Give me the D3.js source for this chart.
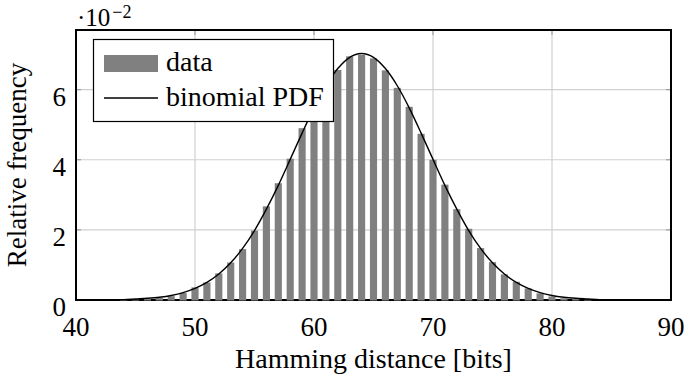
<!DOCTYPE html>
<html>
<head>
<meta charset="utf-8">
<script src="https://cdn.jsdelivr.net/npm/d3@7"></script>
<style>
  body { margin: 0; background: #fff; }
  svg text { font-family: "Liberation Serif", "Times New Roman", Times, "DejaVu Serif", "Noto Serif", serif; fill: #000; }
</style>
</head>
<body>
<div id="chart"></div>
<script>
// hamming distances (bits) that have a bar
const distances = [44, 45, 46, 47, 48, 49, 50, 51, 52, 53, 54, 55, 56, 57, 58, 59, 60, 61, 62, 63,
  64, 65, 66, 67, 68, 69, 70, 71, 72, 73, 74, 75, 76, 77, 78, 79, 80, 81, 82, 83];
// relative frequency, in units of 10^-2
const relFreq = [0.01, 0.02, 0.03, 0.06, 0.11, 0.20, 0.36, 0.50, 0.76, 1.07, 1.45, 1.98, 2.67, 3.33, 4.03, 4.90, 5.50, 6.05, 6.56, 6.95,
  6.99, 6.89, 6.55, 6.05, 5.51, 4.74, 4.00, 3.29, 2.59, 2.03, 1.48, 1.08, 0.73, 0.52, 0.33, 0.19, 0.10, 0.05, 0.03, 0.01];

// binomial PDF curve, read at each integer from 40 to 90 (10^-2)
const pdfX = [40, 41, 42, 43, 44, 45, 46, 47, 48, 49, 50, 51, 52, 53, 54, 55, 56, 57, 58, 59, 60, 61, 62, 63, 64,
  65, 66, 67, 68, 69, 70, 71, 72, 73, 74, 75, 76, 77, 78, 79, 80, 81, 82, 83, 84, 85, 86, 87, 88, 89, 90];
const pdfY = [0.00, 0.00, 0.00, 0.01, 0.01, 0.03, 0.05, 0.08, 0.13, 0.21, 0.33, 0.50, 0.74, 1.06, 1.47, 1.98, 2.59, 3.27, 4.01, 4.76, 5.48, 6.11, 6.60, 6.92, 7.03,
  6.92, 6.60, 6.11, 5.48, 4.76, 4.01, 3.27, 2.59, 1.98, 1.47, 1.06, 0.74, 0.50, 0.33, 0.21, 0.13, 0.08, 0.05, 0.03, 0.01, 0.01, 0.00, 0.00, 0.00, 0.00, 0.00];

const xTicks = [40, 50, 60, 70, 80, 90];
const yTicks = [0, 2, 4, 6];

const W = 685, H = 382;
const margin = {left: 76, right: 14, top: 30, bottom: 82};
const serif = '"Liberation Serif", "Times New Roman", Times, "DejaVu Serif", "Noto Serif", serif';

const svg = d3.select("#chart").append("svg")
    .attr("width", W)
    .attr("height", H)
    .attr("font-family", serif);

const x = d3.scaleLinear().domain([40, 90]).range([margin.left, W - margin.right]);
const y = d3.scaleLinear().domain([0, 7.7]).range([H - margin.bottom, margin.top]);

// grid
svg.append("g").selectAll("line")
    .data(xTicks.slice(1, -1)).join("line")
    .attr("x1", d => x(d)).attr("x2", d => x(d))
    .attr("y1", y(0)).attr("y2", y(7.7))
    .attr("stroke", "#d0d0d0").attr("stroke-width", 1.2);
svg.append("g").selectAll("line")
    .data(yTicks.slice(1)).join("line")
    .attr("x1", x(40)).attr("x2", x(90))
    .attr("y1", d => y(d)).attr("y2", d => y(d))
    .attr("stroke", "#d0d0d0").attr("stroke-width", 1.2);

// inner ticks, all four sides
const tk = 5;
const ticks = svg.append("g").attr("stroke", "#a0a0a0").attr("stroke-width", 1.2);
xTicks.forEach(d => {
  ticks.append("line").attr("x1", x(d)).attr("x2", x(d)).attr("y1", y(0)).attr("y2", y(0) - tk);
  ticks.append("line").attr("x1", x(d)).attr("x2", x(d)).attr("y1", y(7.7)).attr("y2", y(7.7) + tk);
});
yTicks.forEach(d => {
  ticks.append("line").attr("x1", x(40)).attr("x2", x(40) + tk).attr("y1", y(d)).attr("y2", y(d));
  ticks.append("line").attr("x1", x(90)).attr("x2", x(90) - tk).attr("y1", y(d)).attr("y2", y(d));
});

// frame
svg.append("rect")
    .attr("x", x(40)).attr("y", y(7.7))
    .attr("width", x(90) - x(40)).attr("height", y(0) - y(7.7))
    .attr("fill", "none").attr("stroke", "#000").attr("stroke-width", 2);

// bars
const bw = (x(1) - x(0)) * 0.6;
svg.append("g").selectAll("rect")
    .data(distances).join("rect")
    .attr("x", d => x(d) - bw / 2)
    .attr("y", (d, i) => y(relFreq[i]))
    .attr("width", bw)
    .attr("height", (d, i) => y(0) - y(relFreq[i]) + 0.5)
    .attr("fill", "#808080");

// pdf line
const line = d3.line()
    .x(d => x(d[0]))
    .y(d => y(d[1]))
    .curve(d3.curveMonotoneX);
svg.append("path")
    .datum(pdfX.map((d, i) => [d, pdfY[i]]))
    .attr("d", line)
    .attr("fill", "none")
    .attr("stroke", "#000")
    .attr("stroke-width", 1.4);

// tick labels
svg.append("g").selectAll("text")
    .data(xTicks).join("text")
    .attr("x", d => x(d)).attr("y", y(0) + 36)
    .attr("text-anchor", "middle")
    .attr("font-size", 27)
    .text(d => d);
svg.append("g").selectAll("text")
    .data(yTicks).join("text")
    .attr("x", x(40) - 10).attr("y", d => y(d) + 16)
    .attr("text-anchor", "end")
    .attr("font-size", 27)
    .text(d => d);

// scale factor label
const sf = svg.append("text").attr("x", x(40) + 1).attr("y", 26).attr("font-size", 25);
sf.append("tspan").text("·10");
sf.append("tspan").attr("dx", 2).attr("dy", -8).attr("font-size", 18).text("−2");

// axis titles
svg.append("text")
    .attr("x", (x(40) + x(90)) / 2).attr("y", H - 14)
    .attr("text-anchor", "middle")
    .attr("font-size", 28)
    .text("Hamming distance [bits]");
svg.append("text")
    .attr("transform", "translate(26," + (y(0) + y(7.7)) / 2 + ") rotate(-90)")
    .attr("text-anchor", "middle")
    .attr("font-size", 27)
    .text("Relative frequency");

// legend
const lg = svg.append("g");
lg.append("rect")
    .attr("x", 93.5).attr("y", 39.5).attr("width", 240).attr("height", 82)
    .attr("fill", "#fff").attr("stroke", "#000").attr("stroke-width", 1.2);
lg.append("rect")
    .attr("x", 104).attr("y", 55).attr("width", 54).attr("height", 17)
    .attr("fill", "#808080");
lg.append("text").attr("x", 166).attr("y", 71).attr("font-size", 28).text("data");
lg.append("line")
    .attr("x1", 104).attr("x2", 158).attr("y1", 98).attr("y2", 98)
    .attr("stroke", "#000").attr("stroke-width", 1.4);
lg.append("text").attr("x", 166).attr("y", 106).attr("font-size", 28).text("binomial PDF");
</script>
</body>
</html>
